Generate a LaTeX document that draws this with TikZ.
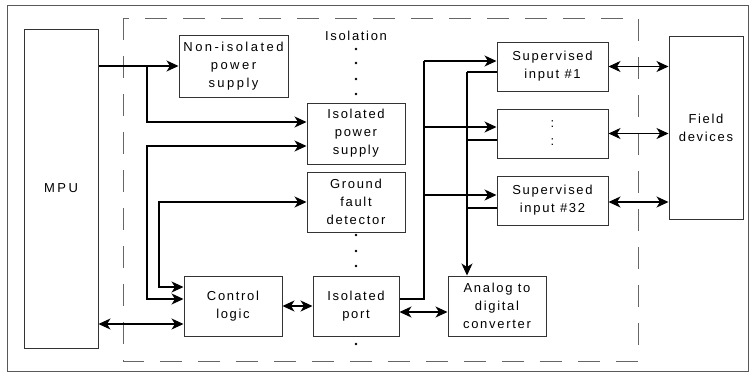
\documentclass[tikz,border=0pt]{standalone}
\usepackage{fontspec}
\setmainfont{Liberation Sans}[LetterSpace=13]
\usetikzlibrary{arrows.meta,calc}
\begin{document}
\begin{tikzpicture}[x=1pt,y=-1pt,
  box/.style={draw=black!80, line width=1pt, inner sep=0pt, align=center, font=\fontsize{13}{18}\selectfont},
  lbl/.style={inner sep=0pt, font=\fontsize{13}{18}\selectfont},
  conn/.style={line width=1.1pt, black},
  tip/.style={-{Stealth[length=12pt,width=11pt,inset=3.5pt]}},
  tips/.style={{Stealth[length=12pt,width=11pt,inset=3.5pt]}-{Stealth[length=12pt,width=11pt,inset=3.5pt]}},
  wide/.style={font=\fontsize{13}{18}\selectfont\addfontfeature{LetterSpace=19}}]
\useasboundingbox (0,0) rectangle (750,373);
\draw[black!65, line width=1pt] (7,5) rectangle (748,371);
\draw[black!60, line width=1pt, dash pattern=on 22pt off 16pt] (123,18) rectangle (638,361);

% boxes
\node[box, wide, minimum width=74pt, minimum height=319pt] (mpu) at (61,188.5) {MPU};
\node[box, wide, minimum width=109pt, minimum height=62pt] (nips) at (233.5,66) {Non-isolated\\power\\supply};
\node[box, minimum width=98pt, minimum height=61pt] (ips) at (356,133.5) {Isolated\\power\\supply};
\node[box, minimum width=98pt, minimum height=60pt] (gfd) at (356,202) {Ground\\fault\\detector};
\node[box, minimum width=98pt, minimum height=60pt] (cl) at (233,306) {Control\\logic};
\node[box, minimum width=86pt, minimum height=60pt] (ip) at (356,306) {Isolated\\port};
\node[box, minimum width=98pt, minimum height=60pt] (adc) at (497,306) {Analog to\\digital\\converter};
\node[box, minimum width=111pt, minimum height=49pt] (s1) at (552.5,66.5) {Supervised\\input \#1};
\node[box, minimum width=111pt, minimum height=49pt] (sm) at (552.5,133.5) {:\\:};
\node[box, minimum width=111pt, minimum height=49pt] (s32) at (552.5,200.5) {Supervised\\input \#32};
\node[box, minimum width=74pt, minimum height=183pt] (fd) at (706,127.5) {Field\\devices};

% isolation label and dots
\node[lbl] (iso) at (356,36) {Isolation};
\foreach \y in {49,63,79,94,235,251,266,344} \fill (356,\y) circle (1.4);

% MPU power lines
\draw[conn,tip] (mpu.east |- nips.west) -- (nips.west);
\coordinate (j1) at (147,66);
\coordinate (ipsa) at ([yshift=11.5pt]ips.west);
\coordinate (ipsb) at ([yshift=-12.5pt]ips.west);
\draw[conn,tip] (j1) |- (ipsa);

% control logic links
\coordinate (cla) at ([yshift=19pt]cl.west);
\coordinate (clb) at ([yshift=7pt]cl.west);
\coordinate (clc) at ([yshift=-18pt]cl.west);
\draw[conn,tips] (ipsb) -| (147,299) -- (clb);
\draw[conn,tips] (gfd.west) -| (159,287) -- (cla);
\draw[conn,tips] (clc -| mpu.east) -- (clc);
\draw[conn,tips] (cl.east) -- (ip.west);
\coordinate (ipa) at ([yshift=-6pt]ip.east);
\draw[conn,tips] (ipa) -- (ipa -| adc.west);

% bus 1 (isolated port to supervised inputs)
\coordinate (b1) at (424,0);
\coordinate (s1a) at ([yshift=5.5pt]s1.west);
\coordinate (sma) at ([yshift=6.5pt]sm.west);
\coordinate (s32a) at ([yshift=5.5pt]s32.west);
\coordinate (ipb) at ([yshift=7pt]ip.east);
\draw[conn] (ipb) -| (b1 |- s1a);
\draw[conn,tip] (b1 |- s1a) -- (s1a);
\draw[conn,tip] (b1 |- sma) -- (sma);
\draw[conn,tip] (b1 |- s32a) -- (s32a);

% bus 2 (supervised inputs to ADC)
\coordinate (b2) at (467,0);
\coordinate (s1b) at ([yshift=-5.5pt]s1.west);
\coordinate (smb) at ([yshift=-6.5pt]sm.west);
\coordinate (s32b) at ([yshift=-7.5pt]s32.west);
\draw[conn] (s1b) -- (b2 |- s1b);
\draw[conn] (smb) -- (b2 |- smb);
\draw[conn] (s32b) -- (b2 |- s32b);
\draw[conn,tip] (b2 |- s1b) -- (b2 |- adc.north);

% field devices
\draw[conn,tips] (s1.east) -- (s1.east -| fd.west);
\draw[conn,tips] (sm.east) -- (sm.east -| fd.west);
\coordinate (s32c) at ([yshift=-1.5pt]s32.east);
\draw[conn,tips] (s32c) -- (s32c -| fd.west);
\end{tikzpicture}
\end{document}
